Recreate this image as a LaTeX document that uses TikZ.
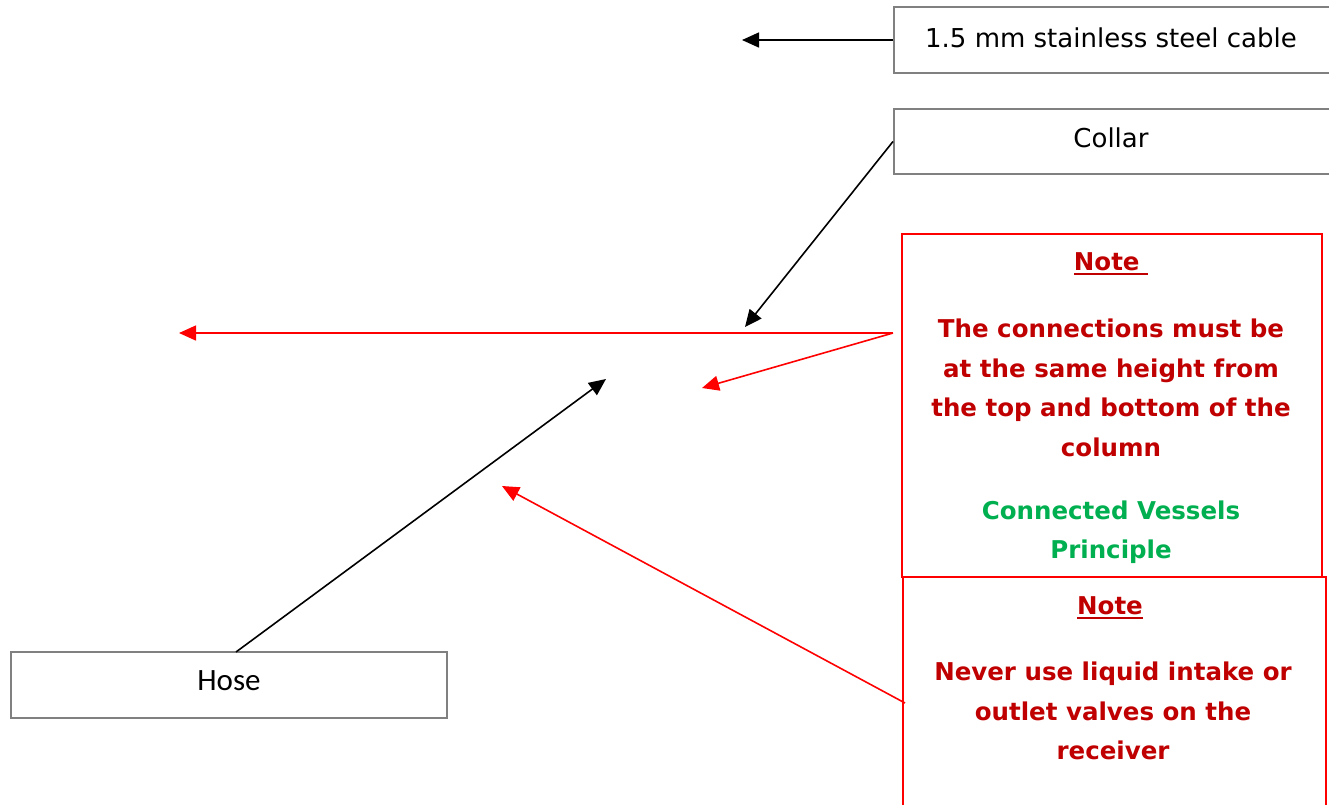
\documentclass[tikz,border=0pt]{standalone}
\usepackage{fontspec}
\setmainfont{DejaVu Sans}
\newfontfamily\hosefont{Carlito}
\usetikzlibrary{arrows.meta}
\definecolor{notered}{RGB}{192,0,0}
\definecolor{notegreen}{RGB}{0,176,80}
\definecolor{boxgray}{RGB}{128,128,128}
\definecolor{linered}{RGB}{255,0,0}
\newcommand\ulnote[1]{\setbox0\hbox{#1}\rlap{\color{notered}\rule[-5pt]{\wd0}{2.5pt}}\box0}
\tikzset{
  graybox/.style={draw=boxgray, line width=2pt, rectangle, inner sep=0pt},
  redbox/.style={draw=linered, line width=1.5pt, rectangle, inner sep=0pt},
  lbl/.style={font=\fontsize{26}{31}\selectfont, text=black, inner sep=0pt},
  notetxt/.style={font=\fontsize{24.5}{39.5}\selectfont\bfseries, text=notered, align=center, inner sep=0pt},
  greentxt/.style={font=\fontsize{24.5}{39.5}\selectfont\bfseries, text=notegreen, align=center, inner sep=0pt},
  blackarrow/.style={draw=black, line width=1.6pt, -{Triangle[length=17pt,width=15pt]}},
  redarrow/.style={draw=linered, line width=1.6pt, -{Triangle[length=17pt,width=15pt]}}
}
\begin{document}
\begin{tikzpicture}[x=1pt,y=-1pt]
\useasboundingbox (0,0) rectangle (1329,804);
\fill[white] (0,0) rectangle (1329,804);

% label boxes
\node[graybox, minimum width=436pt, minimum height=66pt] (cable) at (1112,40) {};
\node[lbl] (cabletxt) at (1111,38) {1.5 mm stainless steel cable};
\node[graybox, minimum width=436pt, minimum height=65pt] (collar) at (1112,141.5) {};
\node[lbl] (collartxt) at (1111,138) {Collar};
\node[graybox, minimum width=436pt, minimum height=66pt] (hose) at (229,685) {};
\node[lbl, font=\hosefont\fontsize{31}{36}\selectfont] (hosetxt) at (229,681) {Hose};

% note boxes
\node[redbox, minimum width=420pt, minimum height=343pt] (note1) at (1112,405.5) {};
\node[redbox, minimum width=423pt, minimum height=240pt] (note2) at (1114.5,697) {};

\node[notetxt] (n1title) at (1111,264) {\ulnote{Note\ }};
\node[notetxt] (n1body) at (1111,388) {The connections must be\\at the same height from\\the top and bottom of the\\column};
\node[greentxt] (n1green) at (1111,532) {Connected Vessels\\Principle};

\node[notetxt] (n2title) at (1110,608) {\ulnote{Note}};
\node[notetxt] (n2body) at (1113,711) {Never use liquid intake or\\outlet valves on the\\receiver};

% coordinates
\coordinate (cableend) at (742,40);
\coordinate (collarend) at (745,327);
\coordinate (n1src) at (893,333);
\coordinate (redend1) at (179,333);
\coordinate (redend2) at (702,388);
\coordinate (hosesrc) at (236,652);
\coordinate (hoseend) at (606,379);
\coordinate (n2src) at (905,703);
\coordinate (redend3) at (502,486);

% connectors
\draw[blackarrow] (cable.west) -- (cableend);
\draw[blackarrow] (collar.west) -- (collarend);
\draw[redarrow] (n1src) -- (redend1);
\draw[redarrow] (n1src) -- (redend2);
\draw[blackarrow] (hosesrc) -- (hoseend);
\draw[redarrow] (n2src) -- (redend3);
\end{tikzpicture}
\end{document}
